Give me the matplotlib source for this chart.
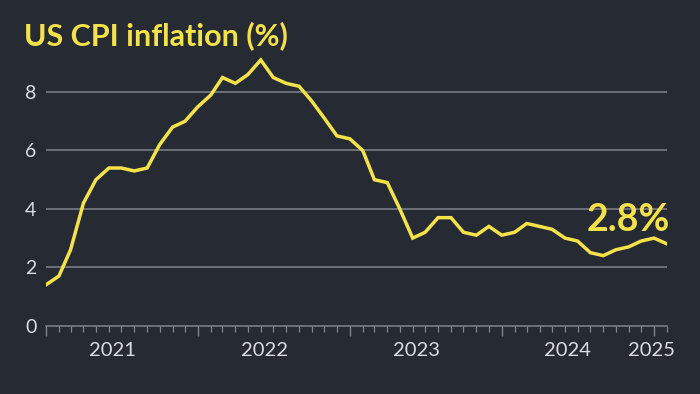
import numpy as np
import pandas as pd
import matplotlib
matplotlib.use("Agg")
import matplotlib.pyplot as plt
import matplotlib.dates as mdates

# US CPI inflation, monthly, Jan 2021 - Feb 2025
start = "2021-01-01"
cpi = [1.4, 1.7, 2.6, 4.2, 5.0, 5.4, 5.4, 5.3, 5.4, 6.2, 6.8, 7.0,
       7.5, 7.9, 8.5, 8.3, 8.6, 9.1, 8.5, 8.3, 8.2, 7.7, 7.1, 6.5,
       6.4, 6.0, 5.0, 4.9, 4.0, 3.0, 3.2, 3.7, 3.7, 3.2, 3.1, 3.4,
       3.1, 3.2, 3.5, 3.4, 3.3, 3.0, 2.9, 2.5, 2.4, 2.6, 2.7, 2.9,
       3.0, 2.8]
year_labels = ["2021", "2022", "2023", "2024", "2025"]
year_label_dates = ["2021-06-10", "2022-06-10", "2023-06-10", "2024-06-07", "2024-12-25"]
y_ticks = [0, 2, 4, 6, 8]
last_label = "2.8%"

dates = pd.date_range(start, periods=len(cpi), freq="MS")

bg = "#262a33"
yellow = "#f4e24a"
grey = "#80838c"
txt = "#dcdde3"

fig = plt.figure(figsize=(7, 3.94), dpi=100, facecolor=bg)
ax = fig.add_axes([46 / 700, (394 - 325.7) / 394, 621 / 700, 292 / 394])
ax.set_facecolor(bg)

# gridlines
for v in y_ticks[1:]:
    ax.axhline(v, color=grey, lw=1.1, zorder=1)

ax.plot(dates, cpi, color=yellow, lw=2.5, solid_joinstyle="miter", zorder=3)

ax.set_xlim(dates[0], dates[-1])
ax.set_ylim(0, 10)

for s in ["top", "right", "left"]:
    ax.spines[s].set_visible(False)
ax.spines["bottom"].set_color(grey)
ax.spines["bottom"].set_linewidth(1.1)

ax.set_yticks(y_ticks)
ax.tick_params(axis="y", length=0, pad=7, labelsize=14, labelcolor=txt)
for lab in ax.get_yticklabels():
    lab.set_fontfamily("Lato")

ax.xaxis.set_major_locator(mdates.YearLocator())
ax.xaxis.set_minor_locator(mdates.MonthLocator())
ax.xaxis.set_major_formatter(plt.NullFormatter())
ax.tick_params(axis="x", which="major", length=7, width=1, color=grey)
ax.tick_params(axis="x", which="minor", length=4, width=0.9, color=grey)

for lab, d in zip(year_labels, year_label_dates):
    ax.text(pd.Timestamp(d), -0.55, lab, ha="center", va="top", fontsize=14.5,
            color=txt, family="Lato")

ax.text(dates[-1] + pd.Timedelta(days=8), 3.25, last_label, ha="right", va="baseline",
        fontsize=27, fontweight="bold", color=yellow, family="Lato")

fig.text(24 / 700, 1 - 45 / 394, "US CPI inflation (%)", ha="left", va="baseline",
         fontsize=22, fontweight="bold", color=yellow, family="Lato")

fig.savefig("out.png", dpi=100, facecolor=bg)
